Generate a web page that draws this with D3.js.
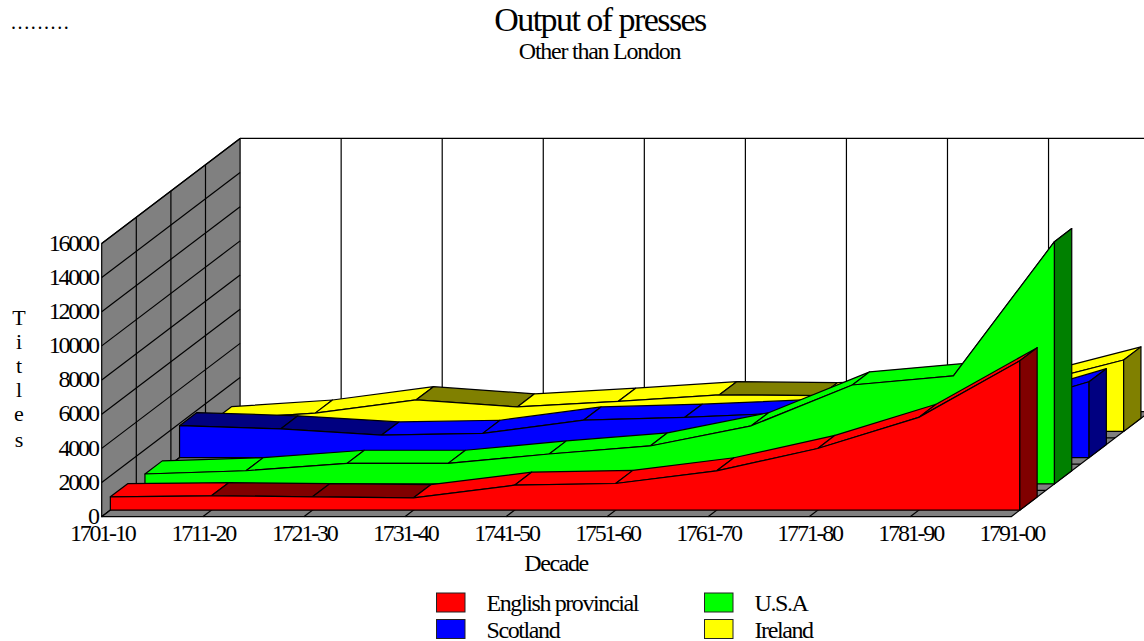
<!DOCTYPE html>
<html>
<head>
<meta charset="utf-8">
<script src="https://cdn.jsdelivr.net/npm/d3@7"></script>
<style>
  html, body { margin: 0; padding: 0; background: #fff; overflow: hidden; }
  text { font-family: "Liberation Serif", serif; fill: #000; }
</style>
</head>
<body>
<div id="chart"></div>
<script>
const decades = ['1701-10', '1711-20', '1721-30', '1731-40', '1741-50', '1751-60', '1761-70', '1771-80', '1781-90', '1791-00']
const yTicks = [0, 2000, 4000, 6000, 8000, 10000, 12000, 14000, 16000]
const seriesNames = ['English provincial', 'U.S.A', 'Scotland', 'Ireland']

const englishProvincial = [780, 840, 780, 720, 1460, 1560, 2300, 3610, 5430, 8740]
const usa = [580, 770, 1200, 1200, 1750, 2220, 3400, 5790, 6320, 14180]
const scotland = [1870, 1680, 1320, 1420, 2200, 2360, 2610, 2650, 2700, 4440]
const ireland = [680, 1070, 1850, 1430, 1760, 2140, 2090, 2300, 2660, 4180]

const seriesValues = [englishProvincial, usa, scotland, ireland]
const bright = ['#ff0000', '#00ff00', '#0000ff', '#ffff00']
const dark = ['#800000', '#008000', '#000080', '#808000']

const width = 1144, height = 641
const floorLeft = 101.7, floorBottom = 516.7, plotHeight = 273.3
const depthX = 138.4, depthY = 105
const barStart = 0.25, barEnd = 0.75
const lineWidth = 1.2

const svg = d3.select('#chart').append('svg')
    .attr('width', width)
    .attr('height', height)
    .style('display', 'block')

const x = d3.scalePoint().domain(decades).range([floorLeft, floorLeft + 909.5])
const y = d3.scaleLinear().domain([0, 16000]).range([floorBottom, floorBottom - plotHeight])
const z = d3.scaleLinear().domain([0, 4]).range([0, 1])

// project a decade / value / depth band onto the page
const project = (decade, value, depth) => [x(decade) + z(depth) * depthX, y(value) - z(depth) * depthY]
const outline = d3.line()

function face(parent, points, fill) {
    parent.append('path')
        .attr('d', outline(points) + 'Z')
        .attr('fill', fill)
        .attr('stroke', '#000')
        .attr('stroke-width', lineWidth)
        .attr('stroke-linejoin', 'round')
}

function rule(parent, a, b) {
    parent.append('line')
        .attr('x1', a[0]).attr('y1', a[1])
        .attr('x2', b[0]).attr('y2', b[1])
        .attr('stroke', '#000')
        .attr('stroke-width', lineWidth)
}

const first = decades[0], last = decades[decades.length - 1]
const grid = svg.append('g')

// back wall
decades.slice(1).forEach(d => rule(grid, project(d, 16000, 4), project(d, 0, 4)))
rule(grid, project(first, 16000, 4), project(last, 16000, 4))

// side wall
face(grid, [project(first, 0, 0), project(first, 16000, 0), project(first, 16000, 4), project(first, 0, 4)], '#808080')
yTicks.forEach(t => rule(grid, project(first, t, 0), project(first, t, 4)))
d3.range(1, 4).forEach(k => rule(grid, project(first, 0, k), project(first, 16000, k)))

// floor
face(grid, [project(first, 0, 0), project(last, 0, 0), project(last, 0, 4), project(first, 0, 4)], '#808080')
d3.range(1, 4).forEach(k => rule(grid, project(first, 0, k), project(last, 0, k)))
decades.slice(1, -1).forEach(d => rule(grid, project(d, 0, 0), project(d, 0, 4)))

// ribbons, back to front
d3.range(seriesValues.length - 1, -1, -1).forEach(s => {
    const values = seriesValues[s]
    const g = svg.append('g').attr('class', 'series')
    const near = s + barStart, far = s + barEnd

    decades.slice(0, -1).forEach((d, i) => {
        const falling = values[i + 1] < values[i]
        face(g, [
            project(d, values[i], near),
            project(decades[i + 1], values[i + 1], near),
            project(decades[i + 1], values[i + 1], far),
            project(d, values[i], far)
        ], falling ? dark[s] : bright[s])
    })

    const top = decades.map((d, i) => project(d, values[i], near))
    face(g, top.concat([project(last, 0, near), project(first, 0, near)]), bright[s])

    const end = values[values.length - 1]
    face(g, [project(last, end, near), project(last, end, far), project(last, 0, far), project(last, 0, near)], dark[s])
})

// axes
const yAxis = d3.axisLeft(y).tickValues(yTicks).tickFormat(d3.format('d')).tickSize(0).tickPadding(4)
const yGroup = svg.append('g').attr('transform', `translate(${floorLeft},-1)`).call(yAxis)
const xAxis = d3.axisBottom(x).tickSize(0).tickPadding(7)
const xGroup = svg.append('g').attr('transform', `translate(0,${floorBottom})`).call(xAxis)
yGroup.select('.domain').remove()
xGroup.select('.domain').remove()
svg.selectAll('.tick text')
    .style('font-family', '"Liberation Serif", serif')
    .style('font-size', '24px')
    .style('letter-spacing', '-2.2px')

// titles
function label(txt, px, py, size, spacing, anchor) {
    return svg.append('text')
        .attr('x', px).attr('y', py)
        .attr('text-anchor', anchor || 'middle')
        .style('font-size', size + 'px')
        .style('letter-spacing', spacing + 'px')
        .text(txt)
}

label('.........', 11, 29, 20, 1.6, 'start')
label('Output of presses', 600, 31, 34, -1.55)
label('Other than London', 599.5, 59, 24, -1.25)
label('Decade', 556, 571, 24, -1.4)

Array.from('Titles').forEach((c, i) => label(c, 19, [325, 349, 373, 397, 421, 447][i], 22, 0))

// legend
const legendX = [436.5, 704.5]
const legendY = [593, 619.5]
const legendOrder = [[0, 0, 0], [1, 1, 0], [2, 0, 1], [3, 1, 1]]
legendOrder.forEach(([s, col, row]) => {
    svg.append('rect')
        .attr('x', legendX[col]).attr('y', legendY[row])
        .attr('width', 28.5).attr('height', 19)
        .attr('fill', bright[s])
        .attr('stroke', '#222')
    label(seriesNames[s], legendX[col] + 50, legendY[row] + 18, 24, -1.4, 'start')
})
</script>
</body>
</html>
